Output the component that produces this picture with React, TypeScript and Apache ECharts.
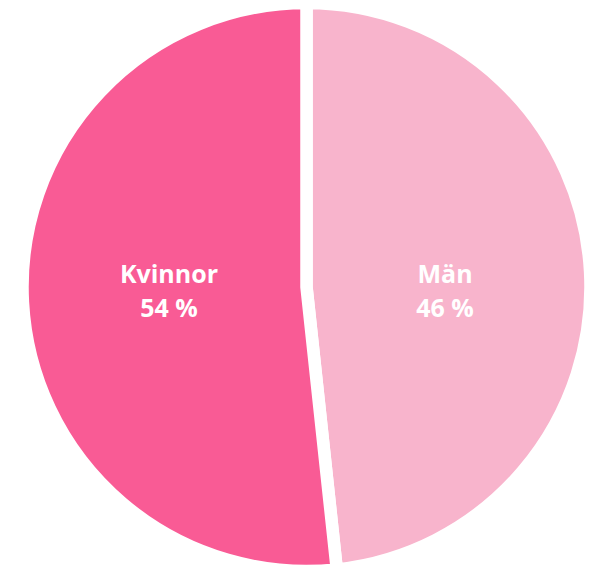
import React, { useEffect, useRef } from "react";
import * as echarts from "echarts";

// Categories, in drawing order (clockwise from 12 o'clock)
const categories = ["Män", "Kvinnor"];
// Percentages printed in the labels
const labelPercents = [46, 54];
// Slice shares as drawn in the picture (angle of the dividing line)
const sliceShares = [48.3, 51.7];
const sliceColors = ["#F8B4CC", "#F95B95"];

const CX = 306.5;
const CY = 287;

export default function App() {
  const ref = useRef<HTMLDivElement>(null);
  useEffect(() => {
    if (!ref.current) return;
    const chart = echarts.init(ref.current, null, { renderer: "svg" });
    chart.setOption({
      animation: false,
      series: [
        {
          type: "pie",
          center: [CX, CY],
          radius: [0, 284],
          startAngle: 90,
          clockwise: true,
          silent: true,
          data: categories.map((name, i) => ({
            name,
            value: sliceShares[i],
            itemStyle: { color: sliceColors[i] },
          })),
          itemStyle: { borderColor: "#ffffff", borderWidth: 12.5 },
          label: {
            show: true,
            position: "inside",
            color: "#ffffff",
            fontFamily: "Open Sans",
            fontWeight: 700,
            fontSize: 25,
            lineHeight: 34,
            formatter: (p: any) => `${p.name}\n${labelPercents[p.dataIndex]} %`,
          },
          labelLayout: (params: any) => {
            const r = params.labelRect;
            const mx = r.x + r.width / 2;
            const my = r.y + r.height / 2;
            const tx = mx < CX ? CX - 137.5 : CX + 138.5;
            const ty = CY + 2.5;
            return { dx: tx - mx, dy: ty - my };
          },
          labelLine: { show: false },
        },
      ],
    });
    return () => chart.dispose();
  }, []);
  return (
    <div
      ref={ref}
      style={{ position: "absolute", left: 0, top: 0, width: 605, height: 566 }}
    />
  );
}
